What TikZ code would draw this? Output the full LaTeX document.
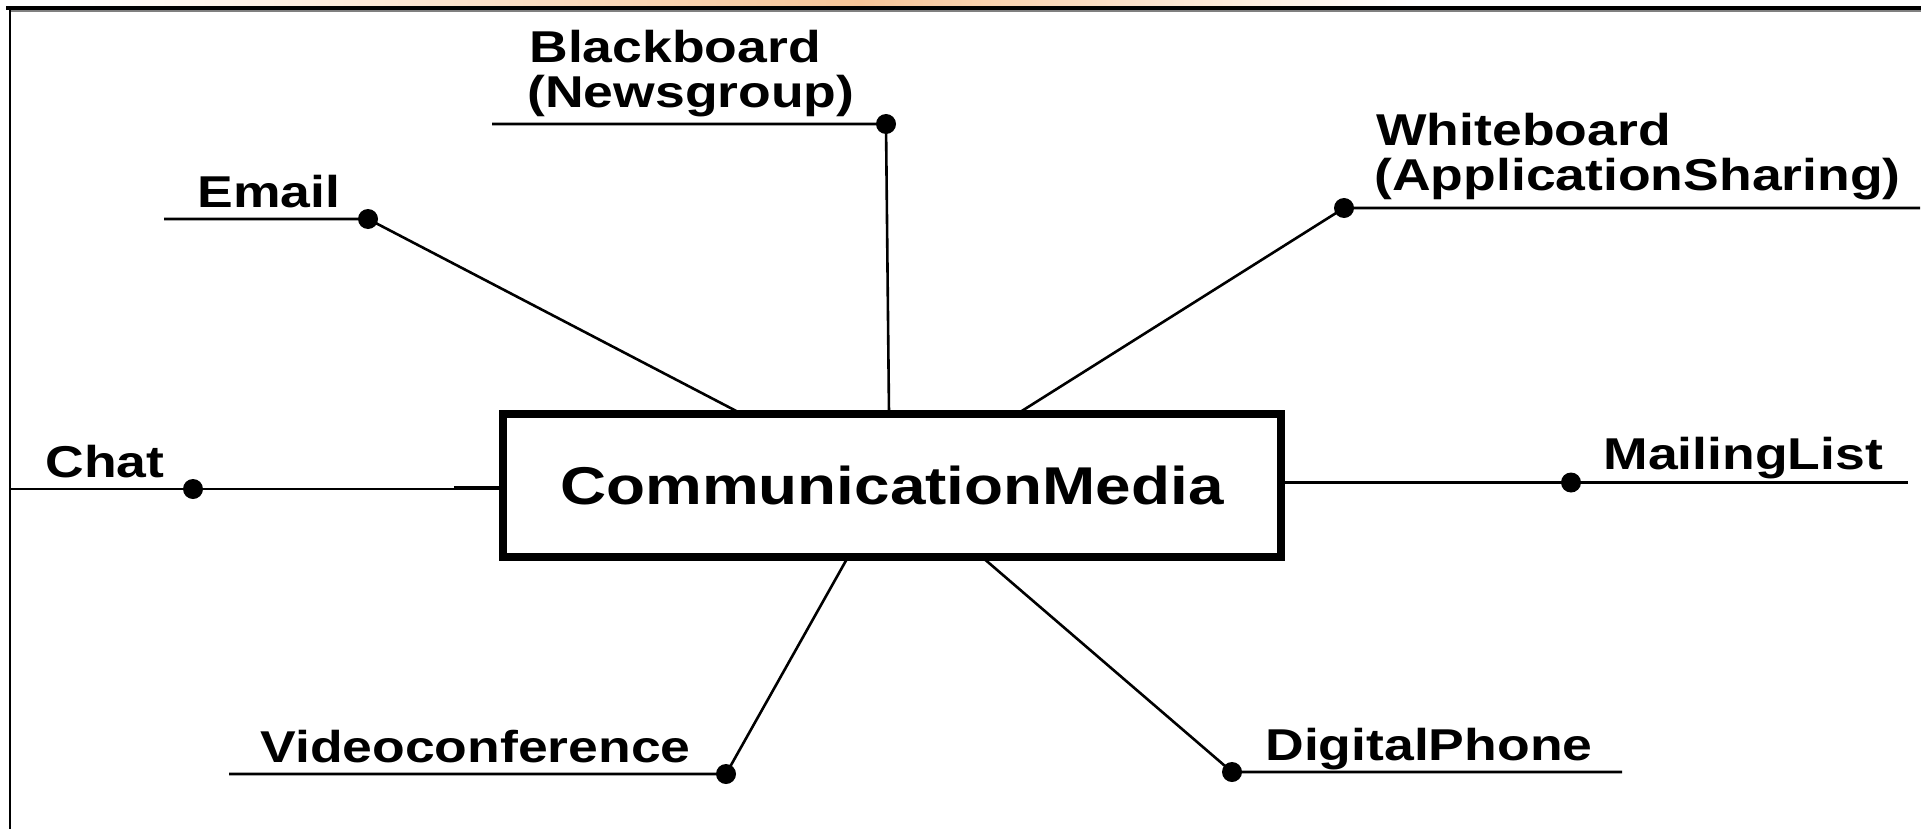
\documentclass[tikz,border=0pt]{standalone}
\usepackage{fontspec}
\setmainfont[FakeStretch=1.2]{Liberation Sans}
\definecolor{peach}{HTML}{F7C598}
\begin{document}
\begin{tikzpicture}[x=0.5pt,y=-0.5pt,
  lab/.style={font=\bfseries\fontsize{22.3}{26}\selectfont, anchor=base west, inner sep=0pt},
  conn/.style={line width=1.3pt},
  dotn/.style={circle, fill=black, inner sep=0pt, minimum size=10pt},
  centerbox/.style={draw, line width=4pt, minimum width=389pt, minimum height=71.5pt, inner sep=0pt,
    font=\bfseries\fontsize{26.6}{30}\selectfont}
]
\useasboundingbox (0,0) rectangle (1930,829);
\fill[white] (0,0) rectangle (1930,829);
% top band and frame
\shade[left color=white, right color=peach] (60,0) rectangle (860,7);
\shade[left color=peach, right color=white] (860,0) rectangle (1420,7);
\draw[line width=2pt] (6,8) -- (1921,8);
\draw[gray, line width=1pt] (10,11) -- (1921,11);
\draw[line width=1.2pt] (10,7) -- (10,829);

% centre box
\node[centerbox] (cm) at (892,485.5) {CommunicationMedia};

% labels
\node[lab] (chat) at (45,477) {Chat};
\node[lab] (email) at (197,207) {Email};
\node[lab] (bb1) at (529,63) {Blackboard};
\node[lab] (bb2) at (527,107) {(Newsgroup)};
\node[lab] (wb1) at (1376,145) {Whiteboard};
\node[lab] (wb2) at (1374,190) {(ApplicationSharing)};
\node[lab] (ml) at (1603,469) {MailingList};
\node[lab] (vc) at (260,762) {Videoconference};
\node[lab] (dp) at (1265,760) {DigitalPhone};

% dots
\node[dotn] (dchat) at (193,489) {};
\node[dotn] (demail) at (368,219) {};
\node[dotn] (dbb) at (886,124) {};
\node[dotn] (dwb) at (1344,208) {};
\node[dotn] (dml) at (1571,482.5) {};
\node[dotn] (dvc) at (726,774) {};
\node[dotn] (ddp) at (1232,772) {};

% free ends of underlines
\coordinate (chatL) at (10,489);
\coordinate (chatT) at (454,488);
\coordinate (emailL) at (164,219);
\coordinate (bbL) at (492,124);
\coordinate (wbR) at (1920,208);
\coordinate (mlR) at (1908,482.5);
\coordinate (vcL) at (229,774);
\coordinate (dpR) at (1622,772);

% attach points on the box
\coordinate (aemail) at (742,414);
\coordinate (abb) at (889,414);
\coordinate (awb) at (1017,414);
\coordinate (avc) at (848,557);
\coordinate (adp) at (982,557);

% connectors
\draw[conn] (chatL) -- (dchat.center) -- (cm.west |- dchat);
\draw[line width=2pt] (chatT) -- (cm.west |- chatT);
\draw[conn] (emailL) -- (demail.center) -- (aemail);
\draw[conn] (bbL) -- (dbb.center) -- (abb);
\draw[conn] (wbR) -- (dwb.center) -- (awb);
\draw[conn] (cm.east |- dml) -- (dml.center) -- (mlR);
\draw[conn] (vcL) -- (dvc.center) -- (avc);
\draw[conn] (dpR) -- (ddp.center) -- (adp);
\end{tikzpicture}
\end{document}
